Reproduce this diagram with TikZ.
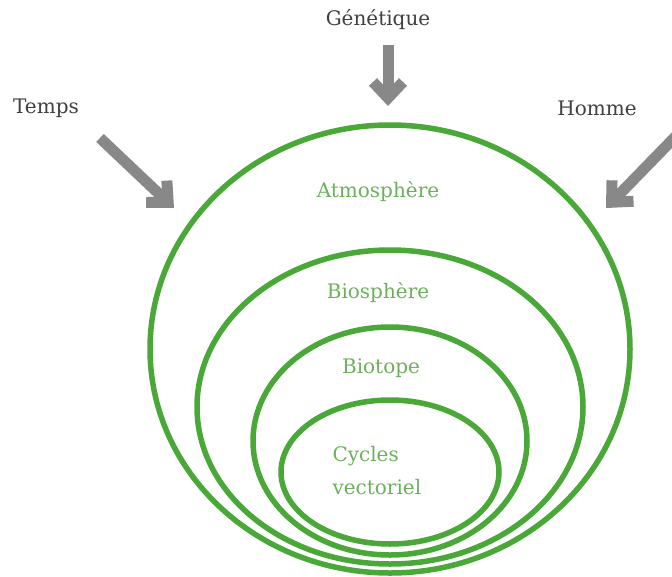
\documentclass[tikz,border=0pt]{standalone}
\usepackage{fontspec}
\setmainfont{DejaVu Serif}
\usetikzlibrary{arrows.meta,shapes.geometric}
\definecolor{vert}{RGB}{74,168,56}
\definecolor{vertclair}{RGB}{108,176,92}
\definecolor{gristexte}{RGB}{64,64,64}
\definecolor{grisfleche}{RGB}{136,136,136}

\begin{document}
\begin{tikzpicture}[x=1pt,y=-1pt,
    zone/.style={draw=vert,line width=5.5pt,ellipse,inner sep=0pt},
    nomzone/.style={text=vertclair,font=\fontsize{20}{33}\selectfont},
    facteur/.style={text=gristexte,font=\fontsize{20}{24}\selectfont},
    flux/.style={draw=grisfleche,line width=11pt,-{Straight Barb[length=16pt,width=30pt]}}]
    \useasboundingbox (0,0) rectangle (672,576);
    \clip (0,0) rectangle (672,576);
    \node[zone,minimum width=480pt,minimum height=448pt] (atmo) at (390,349) {};
    \node[zone,minimum width=386pt,minimum height=314pt] (bios) at (390,407) {};
    \node[zone,minimum width=274pt,minimum height=228pt] (biot) at (390,441) {};
    \node[zone,minimum width=218pt,minimum height=144pt] (cycl) at (390,472) {};
    \node[nomzone] (latmo) at (378,192) {Atmosphère};
    \node[nomzone] (lbios) at (378,293) {Biosphère};
    \node[nomzone] (lbiot) at (381,368) {Biotope};
    \node[nomzone,align=left,anchor=west] (lcycl) at (329,471) {Cycles\\vectoriel};
    \node[facteur] (gen) at (378,20) {Génétique};
    \node[facteur] (temps) at (46,108) {Temps};
    \node[facteur] (homme) at (597,108) {Homme};
    \coordinate (gdebut) at (388,45);
    \coordinate (gfin) at (388,106);
    \coordinate (tdebut) at (100,138);
    \coordinate (tfin) at (174,208);
    \coordinate (hdebut) at (678,134);
    \coordinate (hfin) at (606,208);
    \draw[flux] (gdebut) -- (gfin);
    \draw[flux] (tdebut) -- (tfin);
    \draw[flux] (hdebut) -- (hfin);
\end{tikzpicture}
\end{document}
